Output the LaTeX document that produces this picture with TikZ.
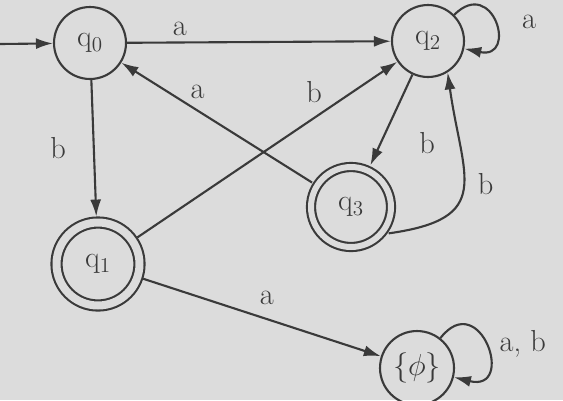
\documentclass[tikz,border=0pt]{standalone}
\usetikzlibrary{arrows.meta}

\definecolor{paper}{RGB}{220,220,220}
\definecolor{ink}{RGB}{58,58,58}

\tikzset{
	state/.style = {circle, draw = ink, text = ink, minimum size = 1.44cm, inner sep = 0pt},
	accept/.style = {state, double = paper, double distance = 0.16cm, minimum size = 1.66cm, outer sep = 3.4pt},
	lbl/.style = {text = ink}
}

\begin{document}
\begin{tikzpicture}[> = {Latex[length = 3.4mm, width = 2.2mm]}, x = 0.02cm, y = -0.02cm, line width = 1.2pt, font = \LARGE]

	% Paper

	\fill [paper] (0, 0) rectangle (563, 400);
	\useasboundingbox (0, 0) rectangle (563, 400);

	% The states

	\node [state] (q0) at (90, 43) {q$_0$};
	\node [state] (q2) at (428, 41) {q$_2$};
	\node [accept] (q1) at (98, 264) {q$_1$};
	\node [accept, minimum size = 1.6cm, double distance = 0.12cm] (q3) at (351, 207) {q$_3$};
	\node [state, minimum size = 1.48cm] (phi) at (417, 368) {$\{\phi\}$};
	\coordinate (start) at (0, 44);

	% Transitions

	\begin{scope}[->, draw = ink, every node/.style = lbl]

		\draw (start) -- (q0);
		\draw (q0) -- node [above, pos = 0.2] {a} (q2);
		\draw (q0) -- node [left, xshift = -12pt] {b} (q1);
		\draw (q3) -- node [above, pos = 0.6, yshift = 3pt] {a} (q0);
		\draw (q1) -- node [above, pos = 0.68, yshift = 5pt] {b} (q2);
		\draw (q2) -- node [right, pos = 0.75, xshift = 18pt] {b} (q3);
		\draw (q3.-35) to [out = 8, in = -82, looseness = 1.6] node [right, pos = 0.52, xshift = 4pt] {b} (q2.-58);
		\draw (q1) -- node [above, pos = 0.52, yshift = 4pt] {a} (phi);
		\draw (q2) to [out = 45, in = -12, looseness = 4] node [right, pos = 0.5, xshift = 12pt] {a} (q2);
		\draw (phi) to [out = 52, in = -14, looseness = 4] node [right, pos = 0.5, xshift = 4pt] {a, b} (phi);

	\end{scope}

\end{tikzpicture}
\end{document}
